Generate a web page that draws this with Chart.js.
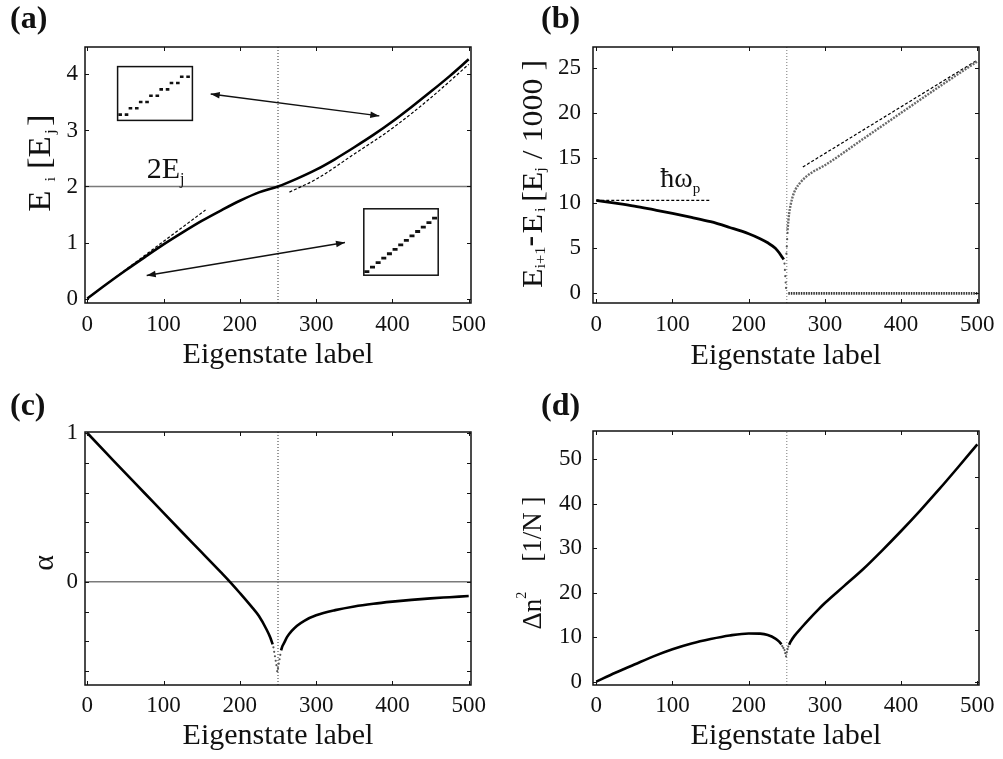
<!DOCTYPE html>
<html><head><meta charset="utf-8">
<script src="https://cdn.jsdelivr.net/npm/chart.js@4.4.0/dist/chart.umd.min.js"></script>
<style>
html,body{margin:0;padding:0;background:#fff;}
#fig{position:relative;width:1003px;height:759px;overflow:hidden;background:#fff;}
canvas{position:absolute;}
.inset{background:#fff;}
</style></head><body>
<div id="fig">
<canvas id="cA" width="501" height="380" style="left:0;top:0"></canvas>
<canvas id="cB" width="502" height="380" style="left:501px;top:0"></canvas>
<canvas id="cC" width="501" height="379" style="left:0;top:380px"></canvas>
<canvas id="cD" width="502" height="379" style="left:501px;top:380px"></canvas>
<canvas id="iA1" class="inset" width="88" height="67" style="left:111px;top:60px"></canvas>
<canvas id="iA2" class="inset" width="88" height="80" style="left:357px;top:202px"></canvas>
</div>
<script>
// ---------------- data ----------------
const xTitle = 'Eigenstate label';
const xTicks = [0,100,200,300,400,500];
const sepX = 250;

// (a) energies
const aYTicks = [0,1,2,3,4];
const aX = [0,25,50,75,100,125,150,175,200,225,250,275,300,325,350,375,400,425,450,475,500];
const aE = [0,0.255,0.50,0.735,0.965,1.18,1.385,1.57,1.745,1.895,2.0,2.14,2.30,2.49,2.70,2.92,3.16,3.42,3.69,3.97,4.27];
const aHarmX = [0,155];
const aHarmY = [0,1.58];
const aRotX = [265,300,350,400,450,500];
const aRotY = [1.90,2.13,2.58,3.04,3.58,4.18];
const aLevel = 2;
const aArrows = [[161.8,3.65,382.8,3.26],[77.9,0.41,337.8,1.0]];
const aInsetUpX = [0,0.62,1,1.62,2,2.62,3,3.62,4,4.62,5,5.62,6,6.62];
const aInsetUpY = [0,0,1,1,2,2,3,3,4,4,5,5,6,6];
const aInsetLowX = [0,1,2,3,4,5,6,7,8,9,10,11,12];
const aInsetLowY = [0,1,2,3,4,5,6,7,8,9,10,11,12];

// (b) level spacing
const bYTicks = [0,5,10,15,20,25];
const bLowX = [0,25,50,75,100,125,150,175,200,215,225,235,240,244,246];
const bLowY = [10.3,10.0,9.67,9.27,8.86,8.42,7.94,7.3,6.6,6.05,5.6,5.0,4.5,4.0,3.75];
const bTransX = [247,247.5,248,248.5,249,249.5,250,250.5,251];
const bTransY = [3.3,2.6,1.9,1.2,0.6,4.4,5.2,6.0,6.7];
const bUpX = [251,252,253,255,258,262,268,275,283,300,350,400,450,500];
const bUpY = [7.0,8.0,8.8,9.8,10.8,11.6,12.3,12.9,13.4,14.2,17.1,20.0,22.9,25.7];
const bZeroX = [252,500];
const bZeroY = [0,0];
const bHwX = [0,150];
const bHwY = [10.3,10.3];
const bRotX = [271,500];
const bRotY = [14.0,25.85];

// (c) alpha
const cYTicks = [-0.6,-0.4,-0.2,0,0.2,0.4,0.6,0.8,1];
const cYLabeled = [0,1];
const cLeftX = [0,25,50,75,100,125,150,175,187,200,215,225,235,240,243];
const cLeftY = [1.0,0.865,0.73,0.597,0.463,0.33,0.198,0.065,0,-0.075,-0.165,-0.23,-0.32,-0.375,-0.42];
const cTransX = [244,245,246,247,248,249,250,251,252,253];
const cTransY = [-0.44,-0.47,-0.5,-0.53,-0.56,-0.6,-0.58,-0.55,-0.52,-0.49];
const cRightX = [254,256,258,262,268,275,285,300,325,350,375,400,425,450,475,500];
const cRightY = [-0.46,-0.43,-0.41,-0.37,-0.33,-0.295,-0.26,-0.225,-0.19,-0.165,-0.147,-0.133,-0.121,-0.111,-0.103,-0.095];

// (d) number variance
const dYTicks = [0,10,20,30,40,50];
const dRightTicks = [0,11.53,23.06,34.6,46.1];
const dLeftX = [0,25,50,75,100,125,150,175,200,215,225,235,240,243];
const dLeftY = [0,2.0,3.85,5.7,7.3,8.6,9.6,10.4,10.85,10.8,10.5,9.7,9.0,8.4];
const dTransX = [244,245.5,247,248,249,250,251,252];
const dTransY = [8.0,7.6,7.1,6.4,5.7,6.6,7.3,7.9];
const dRightX = [253,255,260,270,280,290,300,325,350,375,400,425,450,475,500];
const dRightY = [8.3,9.0,10.3,12.3,14.2,16.0,17.7,21.5,25.3,29.5,33.9,38.5,43.3,48.3,53.4];

// ---------------- helpers ----------------
const FONT = '"Liberation Serif","Times New Roman",serif';
const INK = '#111';
const pts = (xs, ys) => xs.map((x, i) => ({x, y: ys[i]}));
const curve = (xs, ys, o) => Object.assign({data: pts(xs, ys), showLine: true, pointRadius: 0,
  borderColor: '#000', borderWidth: 2.6, cubicInterpolationMode: 'monotone', fill: false}, o || {});
const straight = (xs, ys, o) => Object.assign({data: pts(xs, ys), showLine: true, pointRadius: 0,
  borderColor: '#000', borderWidth: 1.2, tension: 0, fill: false}, o || {});
const dots = (xs, ys, o) => Object.assign({data: pts(xs, ys), showLine: false, pointRadius: 1.1,
  pointBackgroundColor: '#555', pointBorderWidth: 0}, o || {});

function richText(ctx, x, y, segs, opt) {
  ctx.save();
  ctx.translate(x, y);
  if (opt.rotate) ctx.rotate(-Math.PI / 2);
  ctx.scale(opt.stretch || 1, 1);
  ctx.textBaseline = 'alphabetic'; ctx.textAlign = 'left'; ctx.fillStyle = INK;
  const f = s => (s.b ? 'bold ' : '') + s.s + 'px ' + FONT;
  let total = 0;
  const ws = segs.map(s => { ctx.font = f(s); const w = ctx.measureText(s.t).width + (s.pre || 0); total += w; return w; });
  let cx = opt.align === 'center' ? -total / 2 : 0;
  segs.forEach((s, i) => { ctx.font = f(s); ctx.fillText(s.t, cx + (s.pre || 0), s.dy || 0); cx += ws[i]; });
  ctx.restore();
}
function head(ctx, xt, yt, xf, yf) {
  const an = Math.atan2(yt - yf, xt - xf), L = 9, W = 3.3, c = Math.cos(an), s = Math.sin(an);
  ctx.beginPath(); ctx.moveTo(xt, yt);
  ctx.lineTo(xt - L * c + W * s, yt - L * s - W * c);
  ctx.lineTo(xt - L * c - W * s, yt - L * s + W * c);
  ctx.closePath(); ctx.fill();
}
function drawArrow(ctx, x1, y1, x2, y2) {
  ctx.lineWidth = 1.4;
  ctx.beginPath(); ctx.moveTo(x1, y1); ctx.lineTo(x2, y2); ctx.stroke();
  head(ctx, x1, y1, x2, y2); head(ctx, x2, y2, x1, y1);
}

const FIG = {};
const figPlugin = {
  id: 'fig',
  afterDatasetsDraw(chart) {
    const c = FIG[chart.canvas.id]; if (!c) return;
    const ctx = chart.ctx, a = chart.chartArea, xs = chart.scales.x, ys = chart.scales.y;
    ctx.save();
    ctx.strokeStyle = INK; ctx.fillStyle = INK;
    (c.arrows || []).forEach(r => drawArrow(ctx, xs.getPixelForValue(r[0]), ys.getPixelForValue(r[1]),
      xs.getPixelForValue(r[2]), ys.getPixelForValue(r[3])));
    (c.texts || []).forEach(t => richText(ctx, xs.getPixelForValue(t.x), ys.getPixelForValue(t.y), t.segs, {align: 'left'}));
    if (c.ticks) {
      const L = 4;
      ctx.lineWidth = 1; ctx.beginPath();
      xs.ticks.forEach(t => { const p = Math.round(xs.getPixelForValue(t.value)) + 0.5;
        ctx.moveTo(p, a.bottom); ctx.lineTo(p, a.bottom - L); ctx.moveTo(p, a.top); ctx.lineTo(p, a.top + L); });
      ys.ticks.forEach(t => { const p = Math.round(ys.getPixelForValue(t.value)) + 0.5;
        ctx.moveTo(a.left, p); ctx.lineTo(a.left + L, p); });
      (c.rightTicks || ys.ticks.map(t => t.value)).forEach(v => { const p = Math.round(ys.getPixelForValue(v)) + 0.5;
        ctx.moveTo(a.right, p); ctx.lineTo(a.right - L, p); });
      ctx.stroke();
    }
    if (c.frame) { ctx.lineWidth = 1.5; ctx.strokeRect(a.left, a.top, a.right - a.left, a.bottom - a.top); }
    ctx.restore();
  },
  afterDraw(chart) {
    const c = FIG[chart.canvas.id]; if (!c) return;
    const ctx = chart.ctx;
    if (c.panel) richText(ctx, c.panel.x, c.panel.y, [{t: c.panel.t, s: 32, b: true}], {align: 'left'});
    if (c.yLabel) richText(ctx, c.yLabel.x, c.yLabel.y, c.yLabel.segs, {align: 'center', rotate: true, stretch: c.yLabel.stretch});
  }
};

function panel(id, W, H, area, xr, yr, yTicks, datasets, o) {
  return new Chart(document.getElementById(id), {
    type: 'scatter',
    data: {datasets},
    plugins: [figPlugin],
    options: {
      responsive: false, animation: false, devicePixelRatio: 1,
      layout: {padding: {left: 0, top: area.t, right: W - area.r, bottom: 0}},
      plugins: {legend: {display: false}, tooltip: {enabled: false}, title: {display: false}},
      scales: {
        x: {type: 'linear', min: xr[0], max: xr[1],
          afterBuildTicks: s => { s.ticks = xTicks.map(v => ({value: v})); },
          afterFit: s => { s.height = H - area.b; },
          grid: {display: false, drawTicks: false, tickLength: 0}, border: {display: false},
          ticks: {padding: o.xPad, font: {family: FONT, size: 23}, color: INK, maxRotation: 0, autoSkip: false},
          title: {display: true, text: xTitle, font: {family: FONT, size: 30}, color: INK, padding: {top: 0, bottom: o.tPad}}},
        y: {type: 'linear', min: yr[0], max: yr[1],
          afterBuildTicks: s => { s.ticks = yTicks.map(v => ({value: v})); },
          afterFit: s => { s.width = area.l; },
          grid: {display: false, drawTicks: false, tickLength: 0}, border: {display: false},
          ticks: {padding: o.yPad, font: {family: FONT, size: 23}, color: INK, autoSkip: false,
            callback: o.yCb || (v => String(v))}}
      }
    }
  });
}
function inset(id, xr, yr, xs, ys, r, bw) {
  FIG[id] = {frame: true};
  return new Chart(document.getElementById(id), {
    type: 'scatter',
    data: {datasets: [dots(xs, ys, {pointStyle: 'line', pointRadius: r, pointBorderWidth: bw, pointBorderColor: INK, pointBackgroundColor: INK})]},
    plugins: [figPlugin],
    options: {
      responsive: false, animation: false, devicePixelRatio: 1,
      layout: {padding: 1},
      plugins: {legend: {display: false}, tooltip: {enabled: false}},
      scales: {x: {type: 'linear', display: false, min: xr[0], max: xr[1]},
               y: {type: 'linear', display: false, min: yr[0], max: yr[1]}}
    }
  });
}

// ---------------- panel (a) ----------------
const aXR = [-3, 503], aYR = [-0.08, 4.49];
FIG.cA = {frame: true, ticks: true, arrows: aArrows,
  panel: {t: '(a)', x: 10, y: 28},
  texts: [{x: 78, y: 2.15, segs: [{t: '2E', s: 30}, {t: 'j', s: 16, dy: 6}]}],
  yLabel: {x: 50, y: 163, stretch: 1.12, segs: [{t: 'E', s: 31}, {t: 'i', s: 15, dy: 5, pre: 8},
    {t: '[E', s: 31, pre: 7}, {t: 'j', s: 15, dy: 5, pre: 2}, {t: ']', s: 31, pre: 3}]}};
panel('cA', 501, 380, {l: 85, r: 471, t: 47, b: 303}, aXR, aYR, aYTicks, [
  curve(aX, aE),
  straight(aHarmX, aHarmY, {borderDash: [3, 2], borderWidth: 1.2}),
  curve(aRotX, aRotY, {borderDash: [3, 2], borderWidth: 1.2}),
  straight(aXR, [aLevel, aLevel], {borderColor: '#7a7a7a', borderWidth: 1.5}),
  straight([sepX, sepX], aYR, {borderDash: [1, 2], borderWidth: 1, borderColor: '#333'})
], {xPad: 8, yPad: 7, tPad: 7});
inset('iA1', [-0.25, 7.04], [-0.92, 7.61], aInsetUpX, aInsetUpY, 1.8, 2.6);
inset('iA2', [-0.54, 12.64], [-0.82, 14.1], aInsetLowX, aInsetLowY, 2.5, 2.8);

// ---------------- panel (b) ----------------
const bXR = [-4.3, 502.2], bYR = [-1.07, 27.3];
FIG.cB = {frame: true, ticks: true,
  panel: {t: '(b)', x: 40, y: 28},
  texts: [{x: 84, y: 11.8, segs: [{t: 'ħω', s: 28}, {t: 'p', s: 15, dy: 6}]}],
  yLabel: {x: 41, y: 174, stretch: 1.1, segs: [{t: 'E', s: 29}, {t: 'i+1', s: 15, dy: 3},
    {t: '-', s: 29, b: true, dy: -3}, {t: 'E', s: 29, pre: 2}, {t: 'i', s: 15, dy: 3, pre: 2},
    {t: '[E', s: 29, pre: 5}, {t: 'j', s: 15, dy: 3}, {t: ' / 1000 ]', s: 29}]}};
panel('cB', 502, 380, {l: 92, r: 478, t: 47, b: 303}, bXR, bYR, bYTicks, [
  curve(bLowX, bLowY, {borderWidth: 2.8}),
  dots(bTransX, bTransY),
  curve(bUpX, bUpY, {borderColor: '#6a6a6a', borderWidth: 2.4, borderDash: [2, 1.2]}),
  straight(bZeroX, bZeroY, {borderColor: '#333', borderWidth: 2.6, borderDash: [1.5, 1]}),
  straight(bHwX, bHwY, {borderDash: [3, 2], borderWidth: 1.2}),
  straight(bRotX, bRotY, {borderDash: [3, 2], borderWidth: 1.2}),
  straight([sepX, sepX], bYR, {borderDash: [1, 2], borderWidth: 1, borderColor: '#777'})
], {xPad: 8, yPad: 12, tPad: 6});

// ---------------- panel (c) ----------------
const cYR = [-0.693, 1.0067];
FIG.cC = {frame: true, ticks: true,
  panel: {t: '(c)', x: 10, y: 35},
  yLabel: {x: 53, y: 183, segs: [{t: 'α', s: 30}]}};
panel('cC', 501, 379, {l: 85, r: 471, t: 52, b: 305}, aXR, cYR, cYTicks, [
  curve(cLeftX, cLeftY),
  dots(cTransX, cTransY),
  curve(cRightX, cRightY),
  straight(aXR, [0, 0], {borderColor: '#7a7a7a', borderWidth: 1.5}),
  straight([sepX, sepX], cYR, {borderDash: [1, 2], borderWidth: 1, borderColor: '#333'})
], {xPad: 7, yPad: 7, tPad: 5, yCb: v => cYLabeled.includes(v) ? String(v) : ''});

// ---------------- panel (d) ----------------
const dYR = [-0.75, 56.4];
FIG.cD = {frame: true, ticks: true, rightTicks: dRightTicks,
  panel: {t: '(d)', x: 40, y: 35},
  yLabel: {x: 40, y: 183, segs: [{t: 'Δn', s: 27}, {t: '2', s: 14, dy: -15}, {t: '[1/N ]', s: 27, pre: 30}]}};
panel('cD', 502, 379, {l: 92, r: 478, t: 51, b: 305}, bXR, dYR, dYTicks, [
  curve(dLeftX, dLeftY),
  dots(dTransX, dTransY),
  curve(dRightX, dRightY),
  straight([sepX, sepX], dYR, {borderDash: [1, 2], borderWidth: 1, borderColor: '#777'})
], {xPad: 7, yPad: 11, tPad: 5});
</script>
</body></html>
